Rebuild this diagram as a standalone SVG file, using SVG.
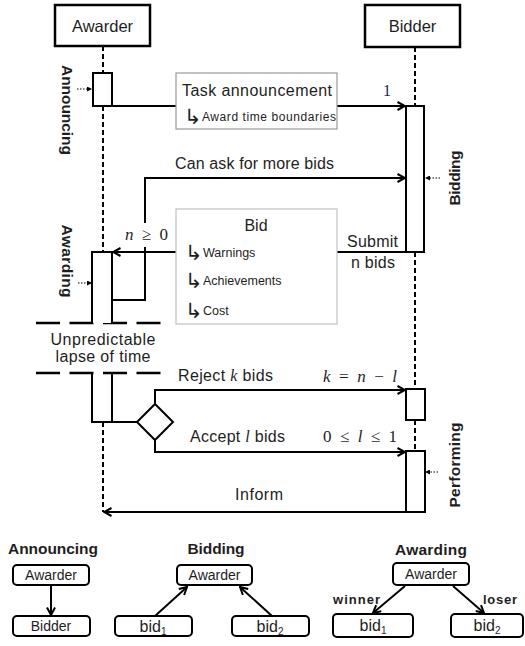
<svg xmlns="http://www.w3.org/2000/svg" width="525" height="646" viewBox="0 0 525 646">
<defs>
<style>
.t{font-family:"Liberation Sans",Arial,sans-serif;font-size:16px;fill:#1e1e1e}
.b{font-weight:bold}
.c{text-anchor:middle}
.m{font-family:"Liberation Serif","Times New Roman",serif;font-style:italic}
.r{font-family:"Liberation Serif","Times New Roman",serif}
.ln{fill:none;stroke:#000;stroke-width:2}
.life{fill:none;stroke:#000;stroke-width:2;stroke-dasharray:5 3}
.act{fill:#fff;stroke:#000;stroke-width:2}
.hd{fill:#fff;stroke:#000;stroke-width:2.5}
.note{fill:#fff;stroke:#9a9a9a;stroke-width:1.2}
.dot{fill:none;stroke:#000;stroke-width:1;stroke-dasharray:1.5 1.5}
.brk{fill:none;stroke:#000;stroke-width:2.5;stroke-dasharray:24 9.5}
.rb{fill:#fff;stroke:#000;stroke-width:2}
.arw{font-family:"DejaVu Sans",sans-serif;font-size:21px;fill:#1e1e1e}
.sub{font-size:10px}
</style>
<marker id="ah" viewBox="0 0 10 10" refX="9" refY="5" markerWidth="10" markerHeight="10" markerUnits="userSpaceOnUse" orient="auto"><path d="M1.5,1 L9,5 L1.5,9" fill="none" stroke="#000" stroke-width="2"/></marker>
<marker id="sm" viewBox="0 0 6 6" refX="6" refY="3" markerWidth="5" markerHeight="5" markerUnits="userSpaceOnUse" orient="auto"><path d="M0,0 L6,3 L0,6z" fill="#000"/></marker>
</defs>
<rect width="525" height="646" fill="#fff"/>

<g id="lifelines">
<path class="life" d="M103,46V73M103,106V252M103,422V512"/>
<path class="life" d="M415,47V106M415,252V389M415,420V451"/>
</g>

<g id="connectors">
<path class="ln" d="M112,106H176"/>
<path class="ln" d="M337,106H405" marker-end="url(#ah)"/>
<path class="ln" d="M112,300H145V247"/>
<path class="ln" d="M145,223V178H405" marker-end="url(#ah)"/>
<path class="ln" d="M406,252H337"/>
<path class="ln" d="M176,252H113" marker-end="url(#ah)"/>
<path class="ln" d="M112,422H137"/>
<path class="ln" d="M155,403V390H405" marker-end="url(#ah)"/>
<path class="ln" d="M155,440V452H405" marker-end="url(#ah)"/>
<path class="ln" d="M406,512H104" marker-end="url(#ah)"/>
<path class="dot" d="M77,89H92" marker-end="url(#sm)"/>
<path class="dot" d="M78,283H92" marker-end="url(#sm)"/>
<path class="dot" d="M440,178H425" marker-end="url(#sm)"/>
<path class="dot" d="M438,472H425" marker-end="url(#sm)"/>
<path class="brk" d="M36,323H161"/>
<path class="brk" d="M36,373H161"/>
</g>

<g id="awarder">
<rect class="hd" x="55" y="5" width="95" height="41"/>
<text class="t c" x="102.5" y="32" style="font-size:16.5px">Awarder</text>
</g>
<g id="bidder">
<rect class="hd" x="365" y="5" width="95" height="42"/>
<text class="t c" x="412.5" y="32" style="font-size:16.5px">Bidder</text>
</g>

<g id="announcing-activation">
<rect class="act" x="93" y="73" width="19" height="33"/>
<text class="t b c" transform="translate(62,110) rotate(90)" style="font-size:15.5px" textLength="90">Announcing</text>
</g>

<g id="task-announcement">
<rect class="note" x="176" y="73" width="161" height="56"/>
<text class="t" x="182" y="96" textLength="150">Task announcement</text>
<text class="arw" x="184" y="124">↳</text>
<text class="t" x="202" y="121" style="font-size:12px" textLength="134">Award time boundaries</text>
</g>
<text class="r" x="383" y="96" style="font-size:16px;fill:#1e1e50">1</text>

<g id="bidding-activation">
<rect class="act" x="406" y="106" width="18" height="146"/>
<text class="t b c" transform="translate(460,178) rotate(-90)" style="font-size:15.5px" textLength="55">Bidding</text>
</g>

<text class="t" x="175" y="169" textLength="159">Can ask for more bids</text>

<g id="bid">
<rect class="note" x="176" y="209" width="161" height="115" style="stroke:#c0c0c0"/>
<text class="t c" x="256" y="231">Bid</text>
<text class="arw" x="185" y="260">↳</text>
<text class="t" x="203" y="257" style="font-size:12.5px">Warnings</text>
<text class="arw" x="185" y="288">↳</text>
<text class="t" x="203" y="285" style="font-size:12.5px">Achievements</text>
<text class="arw" x="185" y="318">↳</text>
<text class="t" x="203" y="315" style="font-size:12.5px">Cost</text>
</g>

<text class="t" x="347" y="247" textLength="51">Submit</text>
<text class="t" x="351" y="268" textLength="44">n bids</text>
<text class="t r" x="125" y="240" style="font-size:17px" textLength="43"><tspan class="m">n</tspan> ≥ 0</text>

<g id="awarding-activation">
<path class="act" d="M92,323V252H112V323"/>
<path class="ln" d="M92,373V422H112V373"/>
<text class="t b c" transform="translate(62,261) rotate(90)" style="font-size:15.5px" textLength="73">Awarding</text>
</g>

<text class="t c" x="103" y="345" textLength="105">Unpredictable</text>
<text class="t c" x="103" y="362" textLength="95">lapse of time</text>

<g id="decision">
<path class="act" d="M137,422L155,404L173,422L155,440Z"/>
</g>

<text class="t" x="178" y="381" textLength="95">Reject <tspan class="m">k</tspan> bids</text>
<text class="t r" x="323" y="382" style="font-size:17px" textLength="74"><tspan class="m">k</tspan> = <tspan class="m">n</tspan> − <tspan class="m">l</tspan></text>
<text class="t" x="190" y="442" textLength="95">Accept <tspan class="m">l</tspan> bids</text>
<text class="t r" x="323" y="442" style="font-size:17px" textLength="74">0 ≤ <tspan class="m">l</tspan> ≤ 1</text>
<text class="t" x="235" y="500" textLength="48">Inform</text>

<g id="reject-activation">
<rect class="act" x="406" y="389" width="19" height="31"/>
</g>
<g id="performing-activation">
<rect class="act" x="406" y="451" width="19" height="61"/>
<text class="t b c" transform="translate(460,465) rotate(-90)" style="font-size:15.5px" textLength="85">Performing</text>
</g>

<g id="legend-announcing">
<text class="t b c" x="53" y="554" style="font-size:15.5px" textLength="90">Announcing</text>
<rect class="rb" x="13" y="565" width="76" height="20" rx="4"/>
<text class="t c" x="51" y="580" style="font-size:14px">Awarder</text>
<rect class="rb" x="13" y="616" width="77" height="20" rx="4"/>
<text class="t c" x="51" y="631" style="font-size:14px">Bidder</text>
<path class="ln" d="M51,585V615" marker-end="url(#ah)"/>
</g>

<g id="legend-bidding">
<text class="t b c" x="216" y="554" style="font-size:15.5px" textLength="57">Bidding</text>
<rect class="rb" x="177" y="565" width="75" height="20" rx="4"/>
<text class="t c" x="214.5" y="580" style="font-size:14px">Awarder</text>
<rect class="rb" x="115" y="616" width="77" height="20" rx="4"/>
<text class="t c" x="153" y="632" style="font-size:16px">bid<tspan class="sub" dy="3">1</tspan></text>
<rect class="rb" x="232" y="616" width="77" height="20" rx="4"/>
<text class="t c" x="270" y="632" style="font-size:16px">bid<tspan class="sub" dy="3">2</tspan></text>
<path class="ln" d="M155,616L187,587" marker-end="url(#ah)"/>
<path class="ln" d="M272,616L240,587" marker-end="url(#ah)"/>
</g>

<g id="legend-awarding">
<text class="t b c" x="431" y="555" style="font-size:15.5px" textLength="72">Awarding</text>
<rect class="rb" x="393" y="563" width="76" height="22" rx="4"/>
<text class="t c" x="431" y="579" style="font-size:14px">Awarder</text>
<rect class="rb" x="333" y="614" width="80" height="23" rx="4"/>
<text class="t c" x="373" y="631" style="font-size:16px">bid<tspan class="sub" dy="3">1</tspan></text>
<rect class="rb" x="451" y="614" width="72" height="23" rx="4"/>
<text class="t c" x="487" y="631" style="font-size:16px">bid<tspan class="sub" dy="3">2</tspan></text>
<path class="ln" d="M405,586L373,613" marker-end="url(#ah)"/>
<path class="ln" d="M453,586L484,613" marker-end="url(#ah)"/>
<text class="t b" x="333" y="604" style="font-size:13px" textLength="47">winner</text>
<text class="t b" x="483" y="604" style="font-size:13px" textLength="34">loser</text>
</g>
</svg>
